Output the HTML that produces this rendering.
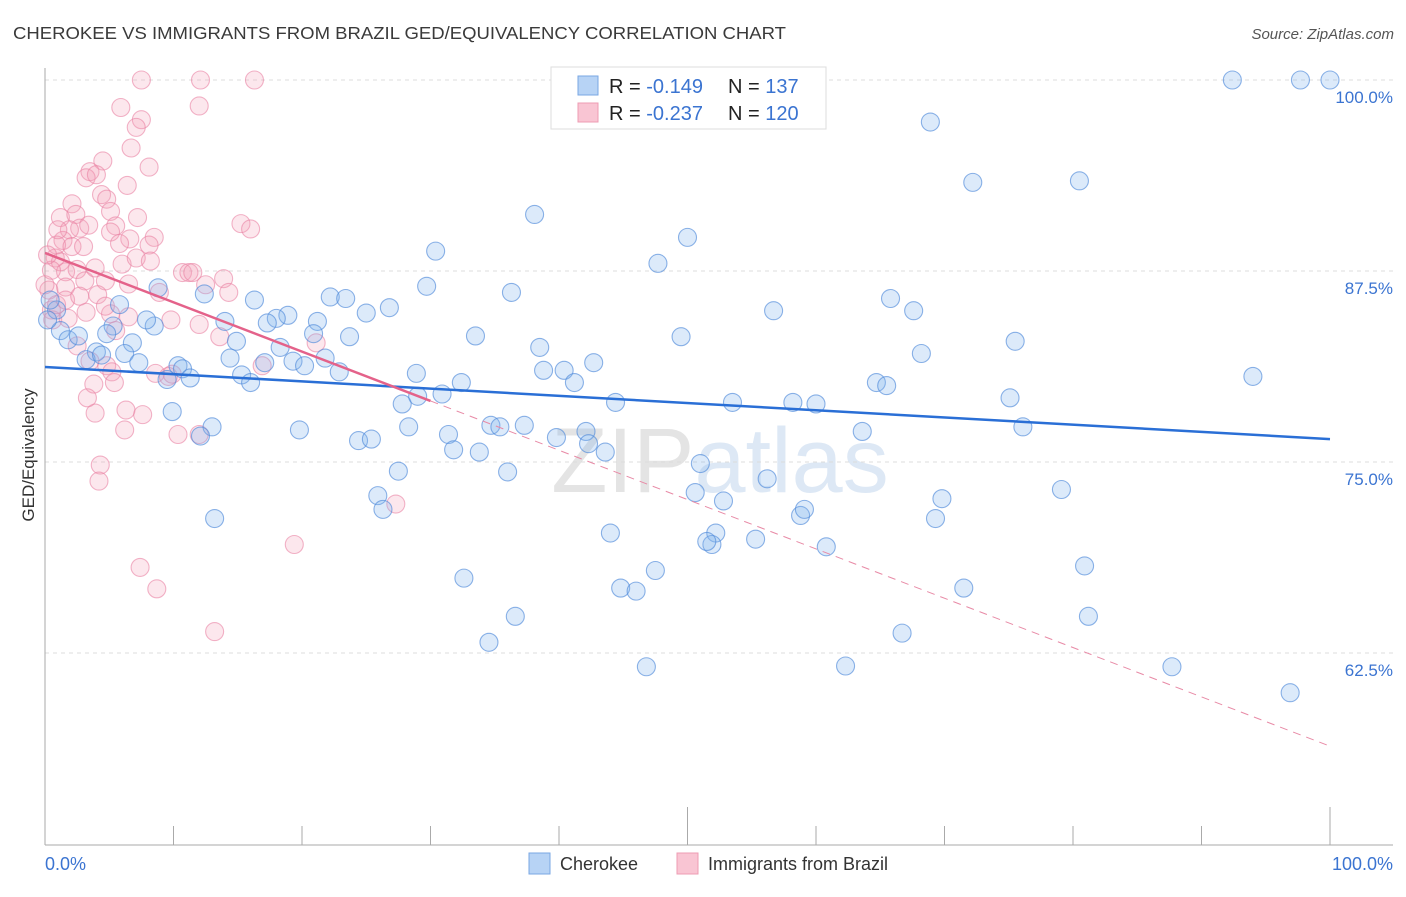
<!DOCTYPE html>
<html><head><meta charset="utf-8"><style>
body{margin:0;background:#fff;font-family:"Liberation Sans",sans-serif;}
svg text{font-family:"Liberation Sans",sans-serif;}
</style></head><body>
<svg id="chart" width="1406" height="892" xmlns="http://www.w3.org/2000/svg">
<text x="13" y="39" font-size="17.5" fill="#3a3a3a" textLength="773" lengthAdjust="spacingAndGlyphs">CHEROKEE VS IMMIGRANTS FROM BRAZIL GED/EQUIVALENCY CORRELATION CHART</text>
<text x="1394" y="39" font-size="15" fill="#555" text-anchor="end" font-style="italic">Source: ZipAtlas.com</text>
<text x="720" y="492" font-size="92" fill="#e6e6e6" text-anchor="middle" font-family="Liberation Serif"><tspan fill="#e4e4e4">ZIP</tspan><tspan fill="#dde8f5" font-family="Liberation Sans">atlas</tspan></text>
<g id="grid"></g><g id="axes"></g><g id="pts"></g><g id="trends"></g>
<text transform="translate(34,455) rotate(-90)" font-size="17" fill="#333" text-anchor="middle">GED/Equivalency</text>
<g>
<rect x="551" y="67" width="275" height="62" fill="#fff" stroke="#ddd"/>
<rect x="578" y="76" width="20" height="19" fill="#b7d3f5" stroke="#7aa7e3"/>
<rect x="578" y="103" width="20" height="19" fill="#f9c5d3" stroke="#ee9cb3"/>
<text x="609" y="93" font-size="20" fill="#222">R = <tspan fill="#3b74d1">-0.149</tspan>  <tspan x="728">N = </tspan><tspan fill="#3b74d1">137</tspan></text>
<text x="609" y="120" font-size="20" fill="#222">R = <tspan fill="#3b74d1">-0.237</tspan>  <tspan x="728">N = </tspan><tspan fill="#3b74d1">120</tspan></text>
</g>
<g>
<rect x="529" y="853" width="21" height="21" fill="#b7d3f5" stroke="#7aa7e3"/>
<text x="560" y="870" font-size="18" fill="#333">Cherokee</text>
<rect x="677" y="853" width="21" height="21" fill="#f9c5d3" stroke="#ee9cb3"/>
<text x="708" y="870" font-size="18" fill="#333">Immigrants from Brazil</text>
</g>
</svg>
<script>
const blueX=[92.4,97.7,100,53.7,68.9,72.2,80.5,38.1,50.0,30.4,47.7,29.7,36.3,12.4,8.8,16.3,22.2,23.4,26.8,25.0,18.9,18.0,17.3,21.2,14.0,8.5,7.9,5.3,5.8,0.9,1.2,1.8,2.6,4.8,6.8,4.0,6.2,3.2,4.4,7.3,10.35,10.7,11.3,9.5,9.9,15.3,16.0,17.1,18.3,19.3,20.2,21.8,14.9,14.4,22.9,23.7,20.9,28.9,27.8,29.0,28.3,30.9,32.4,33.5,38.5,38.8,40.4,41.2,42.7,44.4,31.4,31.8,33.8,34.7,35.4,37.3,39.8,42.1,42.3,43.6,24.4,25.4,27.5,25.9,26.3,13.0,12.1,13.2,19.8,36.0,32.6,34.55,36.6,44.0,44.8,46.0,47.5,46.8,51.0,50.6,52.8,52.2,51.9,51.5,55.3,56.2,53.5,56.7,49.5,58.2,60.0,60.8,58.8,59.1,62.3,63.6,64.7,65.5,65.8,67.6,68.2,69.3,69.8,71.5,66.7,75.1,75.5,76.1,79.1,80.9,81.2,87.7,94.0,96.9,0.4,0.2];
const blueY=[100,100,100,100,97.25,93.3,93.4,91.2,89.7,88.8,88.0,86.5,86.1,86.0,86.4,85.6,85.8,85.7,85.1,84.75,84.6,84.4,84.1,84.2,84.2,83.9,84.3,83.9,85.3,84.95,83.6,83.0,83.25,83.4,82.8,82.2,82.1,81.7,82.0,81.5,81.3,81.1,80.5,80.4,78.3,80.7,80.2,81.5,82.5,81.6,81.3,81.8,82.9,81.8,80.9,83.2,83.4,80.8,78.8,79.3,77.3,79.45,80.2,83.25,82.5,81.0,81.0,80.2,81.5,78.9,76.8,75.8,75.65,77.4,77.3,77.4,76.6,77.0,76.2,75.65,76.4,76.5,74.4,72.8,71.9,77.3,76.7,71.3,77.1,74.35,67.4,63.2,64.9,70.35,66.75,66.55,67.9,61.6,74.9,73.0,72.45,70.35,69.6,69.8,69.95,73.9,78.9,84.9,83.2,78.9,78.8,69.45,71.5,71.9,61.65,77.0,80.2,80.0,85.7,84.9,82.1,71.3,72.6,66.75,63.8,79.2,82.9,77.3,73.2,68.2,64.9,61.6,80.6,59.9,85.6,84.3];
const pinkX=[7.5,12.1,16.3,12.0,5.9,7.5,7.1,6.7,8.1,4.5,3.5,3.2,4.0,6.4,4.4,4.8,1.2,2.1,2.4,2.7,1.9,5.1,7.2,5.5,6.6,8.5,8.1,1.4,0.9,0.8,1.2,2.1,3.0,5.1,5.8,6.0,7.1,8.2,1.6,2.5,3.1,3.9,4.7,1.6,4.1,6.5,8.9,10.7,11.2,11.5,12.5,13.9,14.3,15.25,16.0,0.3,0.5,0.6,0.9,1.8,3.2,5.1,5.5,6.5,9.8,12.0,13.6,16.9,21.1,2.5,3.5,4.8,5.2,8.6,9.6,3.8,5.4,6.3,7.6,6.2,3.9,3.3,10.35,9.9,12.0,4.3,4.2,7.4,8.7,13.2,19.4,27.3,0,0.5,0.2,1.0,1.6,2.7,4.7,3.4];
const pinkY=[100,100,100,98.3,98.2,97.4,96.9,95.55,94.3,94.7,94.0,93.6,93.8,93.1,92.5,92.2,91.0,91.9,91.2,90.3,90.2,91.4,91.0,90.45,89.6,89.7,89.2,89.5,89.2,88.35,88.1,89.1,89.1,90.05,89.3,87.95,88.35,88.15,87.45,87.6,86.85,87.7,86.85,86.45,85.95,86.65,86.1,87.4,87.4,87.4,86.6,87.0,86.1,90.6,90.25,86.25,84.95,84.3,85.3,84.4,84.8,84.7,83.6,84.5,84.3,84.0,83.2,81.3,82.8,82.6,81.6,81.3,80.9,80.8,80.6,80.1,80.2,78.4,78.1,77.1,78.2,79.2,76.8,80.75,76.8,74.8,73.75,68.1,66.7,63.9,69.6,72.25,86.6,87.55,88.55,90.2,85.6,85.85,85.2,90.5];
const yTicks=[100,87.5,75,62.5];
const yTickLabels=["100.0%","87.5%","75.0%","62.5%"];
const xTicks=[0,10,20,30,40,50,60,70,80,90,100];
const blueTrend=[81.22,76.5];
const pinkTrend=[88.68,56.4];
const pinkSolidEnd=30;

const NS="http://www.w3.org/2000/svg";
const X0=45,X1=1330;
function sx(v){return X0+(X1-X0)*v/100;}
function sy(v){return 271+(87.5-v)*15.28;}
function mk(tag,attrs,parent){const e=document.createElementNS(NS,tag);for(const k in attrs)e.setAttribute(k,attrs[k]);parent.appendChild(e);return e;}
const grid=document.getElementById('grid'),axes=document.getElementById('axes'),pts=document.getElementById('pts'),tr=document.getElementById('trends');
yTicks.forEach((t,i)=>{
  const l=mk('line',{x1:X0,x2:1393,y1:sy(t),y2:sy(t),stroke:'#dcdcdc','stroke-dasharray':'4,4'},grid);
  
  
  const tx=mk('text',{x:1393,y:sy(t)+23,'font-size':17,fill:'#3b74d1','text-anchor':'end'},grid);
  tx.textContent=yTickLabels[i];
  
  
});
let a=mk('line',{x1:X0,x2:X0,y1:68,y2:845,stroke:'#aaa'},axes);


a=mk('line',{x1:X0,x2:1393,y1:845,y2:845,stroke:'#aaa'},axes);


xTicks.forEach(t=>{
  const l=mk('line',{x1:sx(t),x2:sx(t),y1:(t%50===0)?807:826,y2:845,stroke:'#aaa'},axes);
  
  
});
let tl=mk('text',{x:45,y:870,'font-size':18,fill:'#3b74d1'},axes);tl.textContent=xTicks[0].toFixed(1)+'%';


tl=mk('text',{x:1393,y:870,'font-size':18,fill:'#3b74d1','text-anchor':'end'},axes);tl.textContent=xTicks[xTicks.length-1].toFixed(1)+'%';


function dots(xs,ys,fill,stroke,name){xs.forEach((x,i)=>{
  const c=mk('circle',{cx:sx(x),cy:sy(ys[i]),r:9,fill:fill,stroke:stroke,'stroke-width':1.1},pts);
  
  
});}
dots(pinkX,pinkY,'rgba(244,160,185,0.25)','rgba(234,130,163,0.6)','brazil-point');
dots(blueX,blueY,'rgba(130,178,238,0.28)','rgba(80,138,218,0.65)','cherokee-point');
let t=mk('line',{x1:sx(0),y1:sy(blueTrend[0]),x2:sx(100),y2:sy(blueTrend[1]),stroke:'#2a6fd6','stroke-width':2.5},tr);


const pm=pinkTrend[0]+(pinkTrend[1]-pinkTrend[0])*pinkSolidEnd/100;
t=mk('line',{x1:sx(0),y1:sy(pinkTrend[0]),x2:sx(pinkSolidEnd),y2:sy(pm),stroke:'#e4628a','stroke-width':2.5},tr);


t=mk('line',{x1:sx(pinkSolidEnd),y1:sy(pm),x2:sx(100),y2:sy(pinkTrend[1]),stroke:'#e88aa6','stroke-width':1,'stroke-dasharray':'8,6'},tr);


</script>
</body></html>
